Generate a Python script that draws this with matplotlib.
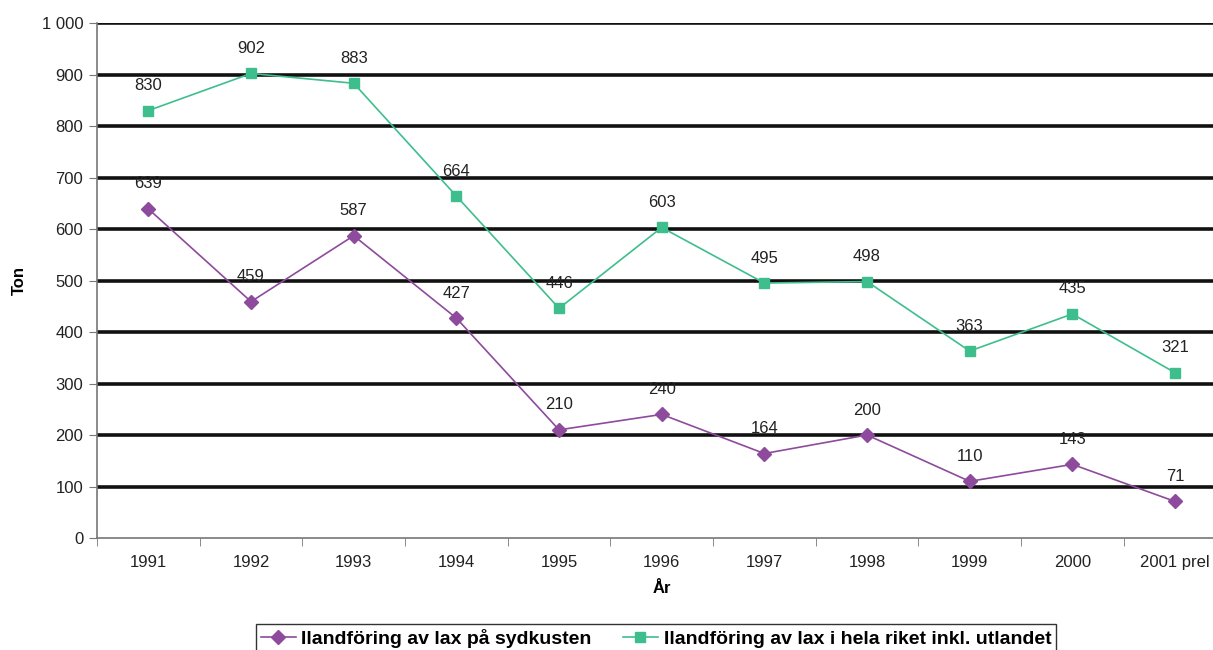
import matplotlib.pyplot as plt
from matplotlib.ticker import FuncFormatter
import matplotlib.font_manager as fm

plt.rcParams['font.family'] = ['Liberation Sans', 'DejaVu Sans']

years = ['1991', '1992', '1993', '1994', '1995', '1996', '1997', '1998', '1999', '2000', '2001 prel']
sydkusten = [639, 459, 587, 427, 210, 240, 164, 200, 110, 143, 71]
hela_riket = [830, 902, 883, 664, 446, 603, 495, 498, 363, 435, 321]

purple = '#8E4A9C'
green = '#3EBE8D'

fig = plt.figure(figsize=(12.13, 6.5), dpi=100)
ax = fig.add_axes([0.080, 0.1723, 0.931, 0.7923])

x = range(len(years))
ax.plot(x, sydkusten, color=purple, marker='D', markersize=7, lw=1.2,
        label='Ilandföring av lax på sydkusten', zorder=4)
ax.plot(x, hela_riket, color=green, marker='s', markersize=7, lw=1.2,
        label='Ilandföring av lax i hela riket inkl. utlandet', zorder=4)

for xi, v in zip(x, sydkusten):
    ax.annotate(str(v), (xi, v), xytext=(0, 18), textcoords='offset points',
                ha='center', va='center', fontsize=12, color='#222222', zorder=3)
for xi, v in zip(x, hela_riket):
    ax.annotate(str(v), (xi, v), xytext=(0, 18), textcoords='offset points',
                ha='center', va='center', fontsize=12, color='#222222', zorder=3)

ax.set_ylim(0, 1000)
ax.set_xlim(-0.5, len(years) - 0.5)
ax.set_yticks(range(0, 1001, 100))
ax.yaxis.set_major_formatter(FuncFormatter(lambda v, p: f'{int(v):,}'.replace(',', ' ')))
for yv in range(100, 1001, 100):
    ax.axhline(yv, color='#111111', lw=2.6, zorder=1)

ax.set_xticks(list(x))
ax.set_xticklabels(years)
ax.set_xticks([i - 0.5 for i in range(len(years) + 1)], minor=True)
ax.tick_params(axis='x', which='major', length=0, pad=12, labelsize=12, labelcolor='#222222')
ax.tick_params(axis='x', which='minor', length=6, color='#777777')
ax.tick_params(axis='y', length=6, color='#777777', labelsize=12, pad=4, labelcolor='#222222')

for s in ['top', 'right']:
    ax.spines[s].set_visible(False)
for s in ['left', 'bottom']:
    ax.spines[s].set_color('#777777')
    ax.spines[s].set_linewidth(1.2)

ax.set_ylabel('Ton', fontsize=12, fontweight='bold')
ax.yaxis.set_label_coords(-0.062, 0.5)
ax.set_xlabel('År', fontsize=12, fontweight='bold', labelpad=8)

leg_font = fm.FontProperties(family=['Liberation Sans Narrow', 'Liberation Sans'], weight='bold', size=14)
leg = fig.legend(loc='center', bbox_to_anchor=(656 / 1213, 1 - 638 / 650), ncol=2, prop=leg_font,
                 frameon=True, fancybox=False, edgecolor='black', handlelength=1.8,
                 columnspacing=1.6, handletextpad=0.3, borderpad=0.25)
leg.get_frame().set_linewidth(1.0)

fig.savefig('out.png', dpi=100)
